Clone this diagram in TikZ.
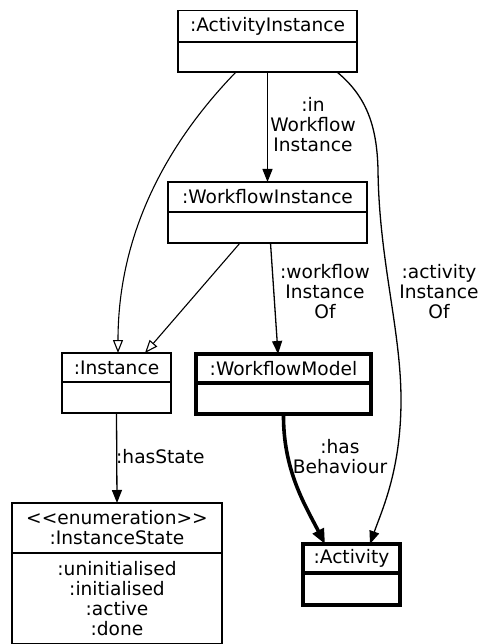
\documentclass[tikz,border=0pt]{standalone}
\usepackage{fontspec}
\setmainfont{DejaVu Sans}
\usetikzlibrary{arrows.meta}
\begin{document}
\begin{tikzpicture}[x=1pt,y=-1pt,
  every node/.style={font=\fontsize{18.6}{20}\selectfont},
  part/.style={draw, line width=1.3pt, inner sep=0pt, outer sep=0pt, anchor=north, align=center},
  boldpart/.style={part, line width=3.6pt},
  lbl/.style={align=center, inner sep=0pt},
  link/.style={line width=1.3pt, -{Triangle[length=13pt,width=10pt]}},
  isa/.style={line width=1.1pt, -{Triangle[open,length=13pt,width=10pt]}},
  boldlink/.style={line width=3.6pt, -{Triangle[length=15pt,width=12pt]}}]
\useasboundingbox (0,0) rectangle (481,644);

% classes: title compartment + body compartment
\node[part, minimum width=179pt, minimum height=31.3pt] (ai) at (267.5,10.7) {:ActivityInstance};
\node[part, minimum width=179pt, minimum height=30pt] (aib) at (ai.south) {};

\node[part, minimum width=199pt, minimum height=30pt] (wi) at (267.5,182) {:WorkflowInstance};
\node[part, minimum width=199pt, minimum height=31pt] (wib) at (wi.south) {};

\node[part, minimum width=109pt, minimum height=29pt] (inst) at (116.5,353) {:Instance};
\node[part, minimum width=109pt, minimum height=31pt] (instb) at (inst.south) {};

\node[boldpart, minimum width=175pt, minimum height=29pt] (wm) at (283.5,354) {:WorkflowModel};
\node[boldpart, minimum width=175pt, minimum height=31pt] (wmb) at (wm.south) {};

\node[part, minimum width=210pt, minimum height=50pt] (is) at (117,503) {<{}<enumeration>{}>\\:InstanceState};
\node[part, minimum width=210pt, minimum height=90.5pt] (isb) at (is.south) {:uninitialised\\:initialised\\:active\\:done};

\node[boldpart, minimum width=97pt, minimum height=29pt] (act) at (351.5,544) {:Activity};
\node[boldpart, minimum width=97pt, minimum height=32pt] (actb) at (act.south) {};

% associations
\draw[link] (aib.south) -- (wi.north);
\node[lbl] (l1) at (313,125) {:in\\Workflow\\Instance};

\draw[isa] ([xshift=-31.5pt]aib.south) .. controls (170,140) and (118,230) .. ([xshift=1.5pt]inst.north);
\draw[isa] ([xshift=-27.5pt]wib.south) -- ([xshift=28.5pt]inst.north);

\draw[link] ([xshift=3pt]wib.south) -- ([xshift=-5.5pt]wm.north);
\node[lbl] (l2) at (325,292) {:workflow\\Instance\\Of};

\draw[link] ([xshift=69.5pt]aib.south) .. controls (366,96) and (377,125) .. (378,170)
  .. controls (379,260) and (401,330) .. (401,400)
  .. controls (401,470) and (382,510) .. ([xshift=18.5pt]act.north);
\node[lbl] (l3) at (439,292) {:activity\\Instance\\Of};

\draw[boldlink] (wmb.south) .. controls (283,470) and (305,505) .. ([xshift=-26.5pt]act.north);
\node[lbl] (l4) at (340,457) {:has\\Behaviour};

\draw[link] (instb.south) -- (is.north);
\node[lbl, anchor=west] (l5) at (116,457) {:hasState};
\end{tikzpicture}
\end{document}
